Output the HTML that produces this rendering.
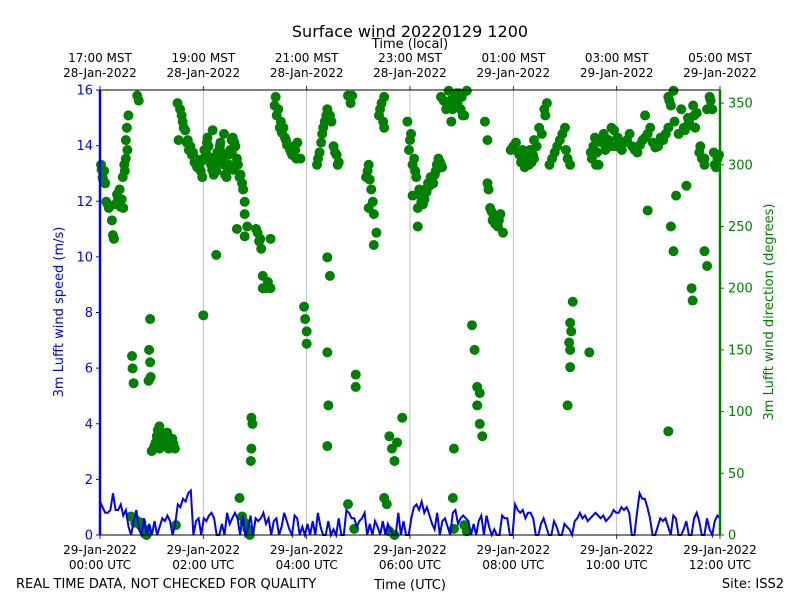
<!DOCTYPE html>
<html><head><meta charset="utf-8">
<style>
body{margin:0;background:#fff;}
svg{display:block;font-family:"DejaVu Sans","Liberation Sans",sans-serif;}
</style></head>
<body>
<svg id="chart" width="800" height="600" viewBox="0 0 800 600" xmlns="http://www.w3.org/2000/svg">
<rect width="800" height="600" fill="#fff"/>
<text x="410" y="37" font-size="16" text-anchor="middle">Surface wind 20220129 1200</text>
<text x="410" y="48" font-size="13" text-anchor="middle">Time (local)</text>
<text x="410" y="589" font-size="13" text-anchor="middle">Time (UTC)</text>
<text x="16" y="588" font-size="13">REAL TIME DATA, NOT CHECKED FOR QUALITY</text>
<text x="784" y="588" font-size="13" text-anchor="end">Site: ISS2</text>
<text transform="translate(63,312) rotate(-90)" font-size="13" fill="#0000ff" text-anchor="middle">3m Lufft wind speed (m/s)</text>
<text transform="translate(773,312) rotate(-90)" font-size="13" fill="#008000" text-anchor="middle">3m Lufft wind direction (degrees)</text>
<g id="grid"></g>
<g id="dirs"></g>
<g id="speed"></g>
<g id="axes"></g>
</svg>
<script>
const speedValues=[1.2,1.0,0.8,0.8,0.9,1.5,0.9,0.9,1.1,0.7,0.9,0.3,0.0,0.5,0.9,0.2,0.0,0.6,0.0,0.4,
0.0,0.5,0.0,0.3,0.6,0.5,0.7,0.5,0.0,0.4,1.1,1.0,1.3,1.2,1.5,1.6,0.0,0.5,0.6,0.0,
0.6,0.5,0.7,0.8,0.6,0.0,0.0,0.4,0.0,0.8,0.4,0.6,0.8,0.6,0.0,0.7,0.0,0.2,0.7,0.0,
0.6,0.5,0.6,0.8,0.4,0.6,0.0,0.5,0.6,0.0,0.3,0.8,0.5,0.2,0.0,0.7,0.6,0.0,0.3,0.0,
0.4,0.0,0.5,0.0,0.8,0.3,0.0,0.0,0.5,0.0,0.2,0.0,0.6,0.0,0.0,0.9,0.8,0.6,0.6,0.3,
0.5,0.6,0.8,0.0,0.4,0.0,0.5,0.3,0.0,0.5,0.0,0.4,0.2,0.0,0.0,0.8,0.0,0.5,0.0,0.0,
0.6,1.0,1.1,0.9,1.2,0.8,1.0,0.7,0.4,0.2,0.8,0.0,0.5,0.6,0.3,0.0,0.8,0.9,0.4,0.6,
0.7,0.6,0.5,0.0,0.4,0.0,0.5,0.7,0.0,0.7,0.3,0.0,0.2,0.0,0.0,0.7,0.6,0.6,0.0,0.0,
1.1,0.9,0.8,0.9,0.6,0.8,0.8,0.6,0.0,0.0,0.4,0.6,0.3,0.0,0.0,0.5,0.3,0.0,0.0,0.4,
0.3,0.2,0.0,0.5,0.6,0.8,0.6,0.7,0.5,0.6,0.7,0.8,0.7,0.6,0.7,0.5,0.6,0.7,0.9,0.8,
0.8,1.0,0.9,1.0,0.8,0.0,0.0,0.8,1.5,1.3,1.3,1.0,0.6,0.0,0.0,0.3,0.6,0.5,0.6,0.3,
0.0,0.7,0.6,0.0,0.0,0.2,0.5,0.0,0.0,0.6,0.8,0.5,0.0,0.0,0.6,0.2,0.0,0.5,0.7,0.6];
const dirHours=[0.02,0.05,0.08,0.1,0.15,0.17,0.23,0.25,0.27,0.35,0.38,0.42,0.45,0.4,0.48,0.5,0.5,0.52,0.55,0.72,0.75,
0.6,0.7,0.8,0.85,0.9,0.62,0.63,0.65,0.97,0.95,0.97,0.94,0.98,
1.0,1.05,1.1,1.15,1.2,1.25,1.3,1.35,1.15,1.45,1.4,1.3,1.47,
1.5,1.55,1.6,1.65,1.7,1.75,1.8,1.85,1.52,
1.9,1.95,2.0,2.05,2.1,2.15,2.2,2.25,2.3,2.35,2.4,2.45,2.5,2.55,2.6,2.65,2.7,2.75,2.8,2.4,2.55,1.98,
2.0,2.25,2.65,2.8,2.85,2.8,2.7,2.75,2.8,2.85,2.9,2.93,2.95,2.93,2.92,
3.05,3.1,3.15,3.2,3.25,3.3,3.3,3.15,3.4,3.45,3.5,3.55,3.6,3.7,3.8,3.75,3.95,3.97,4.0,4.0,
4.2,4.25,4.3,4.35,4.4,4.45,4.4,4.45,4.4,4.42,4.4,4.55,4.6,4.8,4.85,4.95,4.95,4.8,4.92,
5.15,5.2,5.25,5.3,5.35,5.2,5.3,5.4,5.45,5.5,5.5,5.5,5.55,5.6,5.65,5.7,5.75,5.85,5.6,5.7,
5.95,6.0,6.05,6.1,6.05,6.15,6.2,6.3,6.4,6.5,6.55,6.6,6.45,6.15,
6.6,6.7,6.8,6.9,7.0,7.1,7.05,6.8,6.85,6.85,6.83,7.05,7.1,7.2,7.25,7.3,7.35,7.3,7.35,7.4,7.45,7.5,
7.5,7.55,7.6,7.7,7.75,7.8,7.7,8.0,8.1,8.2,8.3,8.4,8.25,8.4,8.5,8.6,8.65,
8.7,8.8,8.9,9.0,9.05,9.1,9.15,9.1,9.12,9.08,9.1,9.1,9.05,9.47,
9.5,9.6,9.7,9.8,9.9,10.0,10.2,10.3,10.4,10.5,10.6,10.8,10.9,11.0,10.55,10.6,
11.0,11.05,11.1,11.0,11.05,11.1,11.15,11.3,11.4,11.5,11.6,11.7,11.35,11.45,11.47,11.75,11.8,11.7,11.75,11.7,11.9,11.95,
0.03,0.06,0.12,0.3,0.33,0.44,0.47,0.53,0.68,0.78,0.88,
1.08,1.12,1.18,1.22,1.28,1.33,1.38,1.42,
1.58,1.62,1.68,1.72,1.78,1.83,1.88,1.92,1.97,2.02,2.07,2.12,2.17,2.22,2.27,2.32,2.37,2.42,2.47,2.52,2.57,2.62,2.67,2.72,2.77,2.08,2.18,2.33,2.48,2.58,
3.02,3.08,3.12,3.38,3.42,3.48,3.52,3.58,3.62,3.68,3.72,3.78,3.82,3.88,
4.22,4.28,4.32,4.38,4.48,4.52,4.58,4.62,4.88,5.18,5.22,5.28,5.42,5.48,
5.98,6.02,6.08,6.12,6.18,6.22,6.25,6.28,6.32,6.35,6.38,6.42,6.48,6.52,6.58,6.62,6.65,6.72,6.75,6.78,6.82,6.88,6.92,6.95,6.98,7.02,
7.52,7.58,7.62,7.65,7.72,7.95,8.05,8.12,8.15,8.18,8.22,8.28,8.32,8.35,8.38,8.45,8.55,8.62,8.75,8.85,8.95,9.02,
9.52,9.55,9.58,9.62,9.65,9.72,9.75,9.78,9.85,9.92,9.95,10.02,10.05,10.1,10.15,10.25,10.35,10.45,10.55,10.65,10.7,10.75,10.85,10.95,
11.02,11.12,11.2,11.25,11.32,11.38,11.42,11.48,11.52,11.55,11.62,11.65,11.82,11.85,11.88,11.92,11.98];
const dirDegrees=[300,290,295,285,268,265,255,243,240,272,280,272,265,266,295,305,320,330,340,356,352,
15,12,10,5,0,145,135,123,175,150,140,125,128,
68,72,80,88,82,78,75,72,70,70,78,83,8,
350,345,335,328,320,315,310,305,320,
300,295,305,310,315,300,292,295,305,310,300,290,300,310,318,305,290,285,270,325,320,290,
178,227,248,260,250,242,30,15,10,5,0,95,90,70,60,
245,240,210,200,205,200,240,200,355,345,335,330,320,310,305,315,185,175,165,155,
300,310,325,335,345,340,225,210,148,105,72,310,300,356,350,130,120,25,5,
290,300,280,260,245,265,235,340,350,355,330,30,25,80,70,60,75,95,3,0,
335,320,300,295,275,265,275,280,290,295,305,300,285,250,
355,345,350,358,355,360,340,335,70,5,30,8,3,170,150,120,115,105,90,80,335,320,
285,265,255,250,260,245,250,315,310,305,300,305,310,320,330,345,350,
300,310,320,330,305,300,189,172,165,156,150,136,105,148,
310,300,320,315,330,315,320,315,310,320,325,315,320,330,340,263,
355,348,360,84,250,230,275,330,335,340,310,300,283,200,190,345,355,305,218,230,300,305,
296,288,270,268,276,290,300,312,10,8,3,
75,85,78,72,80,70,76,74,
340,330,318,312,308,302,298,300,303,312,318,306,296,300,310,315,305,292,298,312,322,315,300,292,280,322,328,318,308,296,
248,238,232,348,340,330,326,322,316,312,308,312,318,305,
305,318,330,340,335,315,308,302,356,295,288,270,345,335,
312,325,305,290,280,270,268,272,278,285,283,288,292,300,302,298,352,348,360,352,345,356,350,358,345,340,
280,262,258,252,255,312,318,308,302,312,298,305,312,302,308,315,325,340,305,315,325,312,
305,315,322,310,300,318,325,312,320,315,328,322,315,312,318,325,312,316,322,330,318,314,322,325,
352,335,325,345,328,338,332,348,330,342,315,305,352,345,310,298,308];
const bottomTickLines1=["29-Jan-2022","29-Jan-2022","29-Jan-2022","29-Jan-2022","29-Jan-2022","29-Jan-2022","29-Jan-2022"];
const bottomTickLines2=["00:00 UTC","02:00 UTC","04:00 UTC","06:00 UTC","08:00 UTC","10:00 UTC","12:00 UTC"];
const topTickLines1=["17:00 MST","19:00 MST","21:00 MST","23:00 MST","01:00 MST","03:00 MST","05:00 MST"];
const topTickLines2=["28-Jan-2022","28-Jan-2022","28-Jan-2022","28-Jan-2022","29-Jan-2022","29-Jan-2022","29-Jan-2022"];
const speedTicks=[0,2,4,6,8,10,12,14,16];
const dirTicks=[0,50,100,150,200,250,300,350];

const L=100,R=720,T=90,B=535;
const xs=h=>L+(R-L)*h/12;
const ys=v=>B-(B-T)*v/16;
const yd=d=>B-(B-T)*d/360.6;
const NS="http://www.w3.org/2000/svg";
function mk(tag,attrs,parent,txt){const e=document.createElementNS(NS,tag);for(const k in attrs)e.setAttribute(k,attrs[k]);if(txt!==undefined)e.textContent=txt;parent.appendChild(e);return e;}
const grid=document.getElementById('grid'),dirs=document.getElementById('dirs'),speed=document.getElementById('speed'),axes=document.getElementById('axes');

for(let i=0;i<bottomTickLines2.length;i++){
  const x=xs(i*2);
  if(i>0&&i<6){const g=mk('line',{x1:x,x2:x,y1:T,y2:B,stroke:'#b0b0b0','stroke-width':0.8},grid);
  
  }
  mk('line',{x1:x,x2:x,y1:B,y2:B+4,stroke:'#000','stroke-width':0.8},axes);
  mk('line',{x1:x,x2:x,y1:T,y2:T-4,stroke:'#000','stroke-width':0.8},axes);
  const b=mk('text',{x:x,y:554,'font-size':12,'text-anchor':'middle'},axes);
  
  
  mk('tspan',{x:x},b,bottomTickLines1[i]);mk('tspan',{x:x,dy:15},b,bottomTickLines2[i]);
  const t=mk('text',{x:x,y:62,'font-size':12,'text-anchor':'middle'},axes);
  
  
  mk('tspan',{x:x},t,topTickLines1[i]);mk('tspan',{x:x,dy:15},t,topTickLines2[i]);
}
for(let i=0;i<dirHours.length;i++){
  const c=mk('circle',{cx:xs(dirHours[i]),cy:yd(dirDegrees[i]),r:5,fill:'#008000'},dirs);
  
  
}
let d='';
for(let i=0;i<speedValues.length;i++){d+=(i?'L':'M')+xs(i*12/(speedValues.length-1)).toFixed(1)+','+ys(speedValues[i]).toFixed(1);}
const p=mk('path',{d:d,fill:'none',stroke:'#0000ff','stroke-width':2},speed);



mk('rect',{x:L,y:T,width:R-L,height:B-T,fill:'none',stroke:'#000','stroke-width':1},axes);
const ls=mk('line',{x1:L,x2:L,y1:T,y2:B,stroke:'#0000ff','stroke-width':2.5},axes);


const rs=mk('line',{x1:R,x2:R,y1:T,y2:B,stroke:'#008000','stroke-width':2.5},axes);


for(const v of speedTicks){
  const y=ys(v);
  mk('line',{x1:L,x2:L-4,y1:y,y2:y,stroke:'#0000ff','stroke-width':1},axes);
  const t=mk('text',{x:L-7,y:y+4.5,'font-size':13,'text-anchor':'end',fill:'#0000ff'},axes,String(v));
  
  
}
for(const v of dirTicks){
  const y=yd(v);
  mk('line',{x1:R,x2:R+4,y1:y,y2:y,stroke:'#008000','stroke-width':1},axes);
  const t=mk('text',{x:R+8,y:y+4.5,'font-size':13,fill:'#008000'},axes,String(v));
  
  
}
</script>
</body></html>
